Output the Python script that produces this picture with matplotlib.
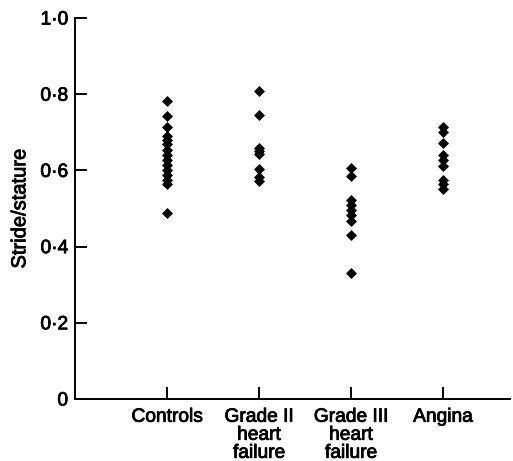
import matplotlib
matplotlib.use("Agg")
import matplotlib.pyplot as plt
import matplotlib.patheffects as pe

# groups along the x axis
groups = ["Controls", "Grade II\nheart\nfailure", "Grade III\nheart\nfailure", "Angina"]

# stride/stature values
controls = [0.781, 0.742, 0.713, 0.689, 0.681, 0.668, 0.654, 0.641, 0.628,
            0.615, 0.602, 0.589, 0.576, 0.564, 0.488]
grade2 = [0.809, 0.745, 0.659, 0.652, 0.644, 0.604, 0.582, 0.571]
grade3 = [0.606, 0.584, 0.523, 0.510, 0.497, 0.484, 0.466, 0.431, 0.330]
angina = [0.714, 0.702, 0.672, 0.641, 0.628, 0.612, 0.576, 0.563, 0.550]

y_ticks = [0, 0.2, 0.4, 0.6, 0.8, 1.0]
y_tick_labels = ["0", "0\u00b72", "0\u00b74", "0\u00b76", "0\u00b78", "1\u00b70"]

plt.rcParams['font.family'] = ['Liberation Sans', 'DejaVu Sans']

fig = plt.figure(figsize=(5.13, 4.61), dpi=100)
ax = fig.add_axes([0.1462, 0.1345, 0.848, 0.8265])

for i, vals in enumerate([controls, grade2, grade3, angina]):
    ax.plot([i + 1] * len(vals), vals, linestyle='none', marker='D',
            markersize=5.0, color='black', markeredgewidth=0.5)

# slightly heavier strokes, the print looks like a medium weight face
thick = [pe.withStroke(linewidth=0.6, foreground='black')]

ax.set_xlim(0, 4.73)
ax.set_ylim(0, 1.0)
ax.set_xticks([1, 2, 3, 4])
ax.set_xticklabels(groups, fontsize=13.8, linespacing=1.08)
ax.set_yticks(y_ticks)
ax.set_yticklabels(y_tick_labels, fontsize=13.8)
ax.set_ylabel("Stride/stature", fontsize=14.5, labelpad=8, path_effects=thick)
for lab in ax.get_xticklabels() + ax.get_yticklabels():
    lab.set_path_effects(thick)

ax.spines['top'].set_visible(False)
ax.spines['right'].set_visible(False)
ax.spines['left'].set_linewidth(1.4)
ax.spines['bottom'].set_linewidth(1.4)
ax.tick_params(direction='in', length=8.5, width=1.4, pad=5)
ax.tick_params(axis='x', pad=7)

fig.savefig("out.png", dpi=100)
